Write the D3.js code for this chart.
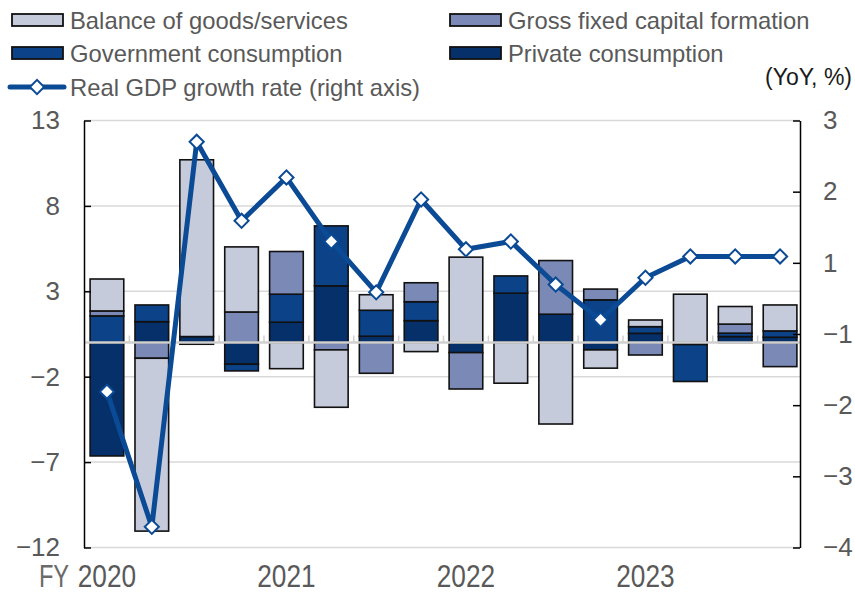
<!DOCTYPE html>
<html>
<head>
<meta charset="utf-8">
<script src="https://cdn.jsdelivr.net/npm/d3@7"></script>
<style>
  body { margin: 0; background: #fff; }
  text { font-family: "Liberation Sans", Arial, sans-serif; }
</style>
</head>
<body>
<svg id="chart" width="855" height="595"></svg>
<script>
// Quarterly contributions to real GDP growth, FY2020–FY2023
const quarters = [
  "2020Q1", "2020Q2", "2020Q3", "2020Q4",
  "2021Q1", "2021Q2", "2021Q3", "2021Q4",
  "2022Q1", "2022Q2", "2022Q3", "2022Q4",
  "2023Q1", "2023Q2", "2023Q3", "2023Q4"
];
const yearLabels = ["2020", "2021", "2022", "2023"];   // shown under Q1 of each FY
const yearQuarters = ["2020Q1", "2021Q1", "2022Q1", "2023Q1"];

const privateConsumption = [-6.64, 1.22, 0.35, -1.27, 1.19, 3.32, 0.37, 1.28, -0.59, 2.89, 1.66, -0.43, 0.54, -0.12, 0.35, 0.31];
const governmentConsumption = [1.56, 0.98, -0.10, -0.39, 1.64, 3.51, 1.52, 1.11, 0.00, 1.01, 0.00, 2.50, 0.39, -2.16, 0.20, 0.37];
const grossFixedCapital = [0.29, -0.92, 0.00, 1.79, 2.50, -0.43, -1.80, 1.11, -2.13, 0.00, 3.14, 0.63, -0.73, 0.00, 0.53, -1.41];
const balanceGoodsServices = [1.87, -10.12, 10.35, 3.81, -1.53, -3.36, 0.91, -0.53, 5.00, -2.38, -4.77, -1.07, 0.39, 2.83, 1.03, 1.52];
const realGdpGrowth = [-1.81, -3.71, 2.70, 1.59, 2.20, 1.30, 0.17, 1.89, 1.19, 1.30, 0.39, -0.60, 0.58, 1.09, 1.09, 1.09];

const leftTicks = [13, 8, 3, -2, -7, -12];
const rightTicks = [3, 2, 1, -1, -2, -3, -4];

const seriesKeys = ["private", "gov", "gfcf", "balance"];   // stacking order outward from zero
const colors = {
  private: "#06306a",
  gov: "#0b4288",
  gfcf: "#7b89b6",
  balance: "#c6cbdc"
};
const lineColor = "#0b4a94";

const svg = d3.select("#chart");
const plot = { left: 84, right: 800, top: 120.5, bottom: 547.5 };

const x = d3.scaleBand()
  .domain(quarters)
  .range([84.5, 802.5])
  .paddingInner(0.25)
  .paddingOuter(0.125);

const yL = d3.scaleLinear().domain([-12, 13]).range([plot.bottom, plot.top]);

// right axis: ticks evenly spaced in the order they are labelled
const rStep = (plot.bottom - plot.top) / (rightTicks.length - 1);
const yR = d3.scaleLinear()
  .domain(rightTicks.slice().reverse())
  .range(rightTicks.map((d, i) => plot.bottom - i * rStep));

// gridlines
svg.append("g")
  .selectAll("line")
  .data(leftTicks)
  .join("line")
  .attr("x1", plot.left).attr("x2", plot.right)
  .attr("y1", d => yL(d)).attr("y2", d => yL(d))
  .attr("stroke", "#d9d9d9")
  .attr("stroke-width", 1.5);

// stacked bars
const rows = quarters.map((q, i) => ({
  q,
  private: privateConsumption[i],
  gov: governmentConsumption[i],
  gfcf: grossFixedCapital[i],
  balance: balanceGoodsServices[i]
}));
const stacked = d3.stack().keys(seriesKeys).offset(d3.stackOffsetDiverging)(rows);

svg.append("g")
  .selectAll("g")
  .data(stacked)
  .join("g")
  .attr("fill", s => colors[s.key])
  .selectAll("rect")
  .data(s => s.filter(d => d[1] !== d[0]))
  .join("rect")
  .attr("x", d => x(d.data.q))
  .attr("width", x.bandwidth())
  .attr("y", d => yL(Math.max(d[0], d[1])))
  .attr("height", d => Math.abs(yL(d[0]) - yL(d[1])))
  .attr("stroke", "#111")
  .attr("stroke-width", 1.6);

// zero line with category separators
const zeroY = yL(0);
const gap = (x.step() - x.bandwidth()) / 2;
svg.append("line")
  .attr("x1", plot.left).attr("x2", plot.right)
  .attr("y1", zeroY).attr("y2", zeroY)
  .attr("stroke", "#d0d0d0")
  .attr("stroke-width", 2.5);
svg.append("g")
  .selectAll("line")
  .data(quarters.slice(1))
  .join("line")
  .attr("x1", d => x(d) - gap).attr("x2", d => x(d) - gap)
  .attr("y1", zeroY).attr("y2", zeroY - 7)
  .attr("stroke", "#d0d0d0")
  .attr("stroke-width", 1.5);

// left axis
const axisL = svg.append("g")
  .attr("transform", `translate(${plot.left},0)`)
  .call(d3.axisLeft(yL).tickValues(leftTicks).tickFormat(d3.format("d"))
    .tickSizeInner(-7).tickSizeOuter(0).tickPadding(24));

// right axis
const axisR = svg.append("g")
  .attr("transform", `translate(${plot.right},0)`)
  .call(d3.axisRight(yR).tickValues(rightTicks).tickFormat(d3.format("d"))
    .tickSizeInner(-7).tickSizeOuter(0).tickPadding(23));

[axisL, axisR].forEach(g => {
  g.select(".domain").attr("stroke", "#000").attr("stroke-width", 1.5);
  g.selectAll(".tick line").attr("stroke", "#000").attr("stroke-width", 1.5);
  g.selectAll(".tick text")
    .attr("fill", "#595959")
    .style("font-size", "26px");
});

// GDP growth line
const cx = q => x(q) + x.bandwidth() / 2;
svg.append("path")
  .datum(realGdpGrowth)
  .attr("fill", "none")
  .attr("stroke", lineColor)
  .attr("stroke-width", 5)
  .attr("stroke-linejoin", "round")
  .attr("d", d3.line().x((d, i) => cx(quarters[i])).y(d => yR(d)));

svg.append("g")
  .selectAll("rect")
  .data(realGdpGrowth)
  .join("rect")
  .attr("x", -5).attr("y", -5)
  .attr("width", 10).attr("height", 10)
  .attr("transform", (d, i) => `translate(${cx(quarters[i])},${yR(d)}) rotate(45)`)
  .attr("fill", "#fff")
  .attr("stroke", lineColor)
  .attr("stroke-width", 2);

// x-axis year labels (condensed)
const xLab = svg.append("g");
xLab.selectAll("text.year")
  .data(yearLabels)
  .join("text")
  .attr("class", "year")
  .attr("transform", (d, i) => `translate(${cx(yearQuarters[i])},587) scale(0.82,1)`)
  .attr("text-anchor", "middle")
  .attr("fill", "#595959")
  .style("font-size", "32px")
  .text(d => d);
xLab.append("text")
  .attr("transform", "translate(54,587) scale(0.74,1)")
  .attr("text-anchor", "middle")
  .attr("fill", "#6a6a6a")
  .style("font-size", "32px")
  .text("FY");

// legend
const legendItems = [
  { key: "balance", label: "Balance of goods/services", x: 12, y: 20 },
  { key: "gfcf", label: "Gross fixed capital formation", x: 450, y: 20 },
  { key: "gov", label: "Government consumption", x: 12, y: 53 },
  { key: "private", label: "Private consumption", x: 450, y: 53 }
];
const legend = svg.append("g");
legendItems.forEach(it => {
  legend.append("rect")
    .attr("x", it.x).attr("y", it.y - 6)
    .attr("width", 51).attr("height", 12)
    .attr("fill", colors[it.key])
    .attr("stroke", "#111")
    .attr("stroke-width", 1.8);
  legend.append("text")
    .attr("x", it.x + 58).attr("y", it.y)
    .attr("dy", "0.36em")
    .attr("fill", "#595959")
    .style("font-size", "23.8px")
    .text(it.label);
});
legend.append("line")
  .attr("x1", 10).attr("x2", 64)
  .attr("y1", 87).attr("y2", 87)
  .attr("stroke", lineColor)
  .attr("stroke-width", 5)
  .attr("stroke-linecap", "round");
legend.append("rect")
  .attr("x", -5).attr("y", -5).attr("width", 10).attr("height", 10)
  .attr("transform", "translate(37,87) rotate(45)")
  .attr("fill", "#fff")
  .attr("stroke", lineColor)
  .attr("stroke-width", 2);
legend.append("text")
  .attr("x", 70).attr("y", 87)
  .attr("dy", "0.36em")
  .attr("fill", "#595959")
  .style("font-size", "23.8px")
  .text("Real GDP growth rate (right axis)");

// unit label
svg.append("text")
  .attr("x", 852).attr("y", 77)
  .attr("dy", "0.36em")
  .attr("text-anchor", "end")
  .attr("fill", "#1a1a1a")
  .style("font-size", "23px")
  .text("(YoY, %)");
</script>
</body>
</html>
